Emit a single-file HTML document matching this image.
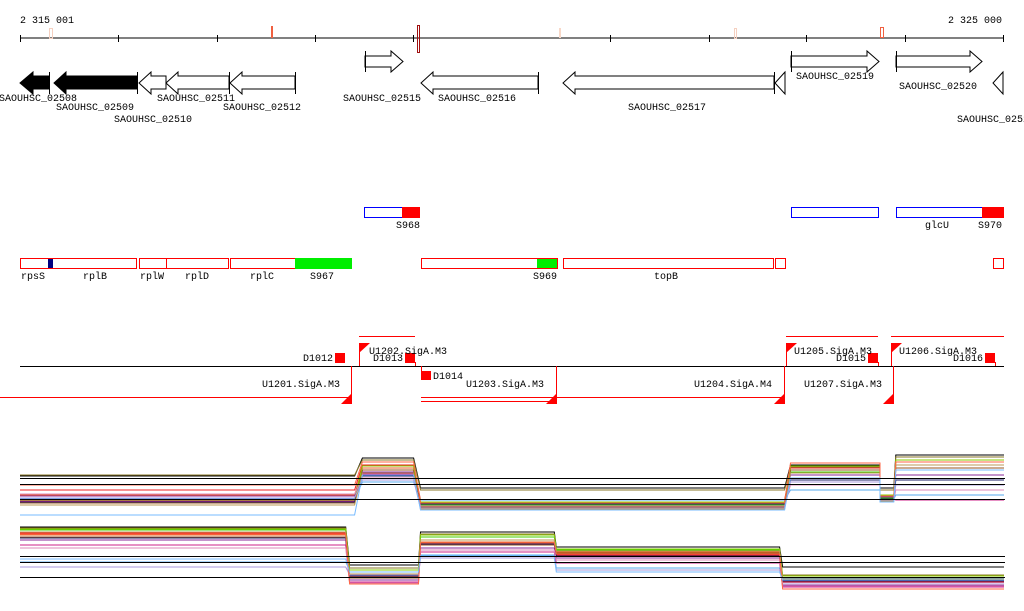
<!DOCTYPE html>
<html><head><meta charset="utf-8"><style>
html,body{margin:0;padding:0;background:#fff;}
svg{display:block;font-family:"Liberation Mono","DejaVu Sans Mono",monospace;}
text{font-size:10px;fill:#000;}
</style></head><body>
<svg id="root" width="1024" height="611" viewBox="0 0 1024 611" xmlns="http://www.w3.org/2000/svg">
<g>
<text x="20" y="23">2 315 001</text>
<text x="1002" y="23" text-anchor="end">2 325 000</text>
<line x1="20" y1="38" x2="1004" y2="38" stroke="#000"/>
<g stroke="#000">
<line x1="20.5" y1="35" x2="20.5" y2="42"/><line x1="118.5" y1="35" x2="118.5" y2="42"/><line x1="217.5" y1="35" x2="217.5" y2="42"/><line x1="315.5" y1="35" x2="315.5" y2="42"/><line x1="413.5" y1="35" x2="413.5" y2="42"/><line x1="610.5" y1="35" x2="610.5" y2="42"/><line x1="709.5" y1="35" x2="709.5" y2="42"/><line x1="806.5" y1="35" x2="806.5" y2="42"/><line x1="905.5" y1="35" x2="905.5" y2="42"/><line x1="1003.5" y1="35" x2="1003.5" y2="42"/>
</g>
<rect x="49.5" y="28.5" width="3" height="10" fill="none" stroke="#f5d0c0"/>
<rect x="271" y="26" width="2" height="12" fill="#f06040"/>
<rect x="417.5" y="25.5" width="2" height="27" fill="none" stroke="#a01010"/>
<rect x="559" y="28" width="2" height="10" fill="#f8d8c8"/>
<rect x="734.5" y="28.5" width="2" height="10" fill="none" stroke="#f5d0c0"/>
<rect x="880.5" y="27.5" width="3" height="10" fill="none" stroke="#f06040"/>
</g>
<g stroke="#000" stroke-width="1">
<polygon points="49,76 33,76 33,72 20,83 33,94 33,89 49,89" fill="#000"/>
<polygon points="137,76 66,76 66,72 54,83 66,94 66,89 137,89" fill="#000"/>
<line x1="137.5" y1="72" x2="137.5" y2="94"/><line x1="49.5" y1="72" x2="49.5" y2="94"/>
<polygon points="166,76 151,76 151,72 139,83 151,94 151,89 166,89" fill="#fff"/>
<polygon points="229,76 178,76 178,72 166,83 178,94 178,89 229,89" fill="#fff"/>
<line x1="229.5" y1="72" x2="229.5" y2="94"/>
<polygon points="295,76 242,76 242,72 230,83 242,94 242,89 295,89" fill="#fff"/>
<line x1="295.5" y1="72" x2="295.5" y2="94"/>
<polygon points="365,56 391,56 391,51 403,61.5 391,72 391,67 365,67" fill="#fff"/>
<line x1="365.5" y1="51" x2="365.5" y2="72"/>
<polygon points="538,76 433,76 433,72 421,83 433,94 433,89 538,89" fill="#fff"/>
<line x1="538.5" y1="72" x2="538.5" y2="94"/>
<polygon points="774,76 575,76 575,72 563,83 575,94 575,89 774,89" fill="#fff"/>
<line x1="774.5" y1="72" x2="774.5" y2="94"/>
<polygon points="785,72 775,83 785,94" fill="#fff"/>
<polygon points="791,56 867,56 867,51 879,61.5 867,72 867,67 791,67" fill="#fff"/>
<line x1="791.5" y1="51" x2="791.5" y2="72"/>
<polygon points="896,56 970,56 970,51 982,61.5 970,72 970,67 896,67" fill="#fff"/>
<line x1="896.5" y1="51" x2="896.5" y2="72"/>
<polygon points="1003,72 993,83 1003,94" fill="#fff"/>
</g>
<g>
<text x="38" y="101" text-anchor="middle">SAOUHSC_02508</text>
<text x="95" y="110" text-anchor="middle">SAOUHSC_02509</text>
<text x="153" y="122" text-anchor="middle">SAOUHSC_02510</text>
<text x="196" y="101" text-anchor="middle">SAOUHSC_02511</text>
<text x="262" y="110" text-anchor="middle">SAOUHSC_02512</text>
<text x="382" y="101" text-anchor="middle">SAOUHSC_02515</text>
<text x="477" y="101" text-anchor="middle">SAOUHSC_02516</text>
<text x="667" y="110" text-anchor="middle">SAOUHSC_02517</text>
<text x="835" y="79" text-anchor="middle">SAOUHSC_02519</text>
<text x="938" y="89" text-anchor="middle">SAOUHSC_02520</text>
<text x="957" y="122">SAOUHSC_0252</text>
</g>
<g>
<rect x="364.5" y="207.5" width="55" height="10" fill="#fff" stroke="#0000ff"/>
<rect x="402" y="207" width="18" height="11" fill="#ff0000"/>
<rect x="791.5" y="207.5" width="87" height="10" fill="#fff" stroke="#0000ff"/>
<rect x="896.5" y="207.5" width="107" height="10" fill="#fff" stroke="#0000ff"/>
<rect x="982" y="207" width="22" height="11" fill="#ff0000"/>
<text x="408" y="228" text-anchor="middle">S968</text>
<text x="937" y="228" text-anchor="middle">glcU</text>
<text x="990" y="228" text-anchor="middle">S970</text>
</g>
<g stroke="#ff0000" fill="#fff">
<rect x="20.5" y="258.5" width="116" height="10"/>
<rect x="48" y="259" width="5" height="9" fill="#000080" stroke="none"/>
<rect x="139.5" y="258.5" width="27" height="10"/>
<rect x="166.5" y="258.5" width="62" height="10"/>
<rect x="230.5" y="258.5" width="65" height="10"/>
<rect x="295" y="258" width="57" height="11" fill="#00ee00" stroke="none"/>
<rect x="421.5" y="258.5" width="136" height="10"/>
<rect x="537" y="259" width="20" height="9" fill="#00ee00" stroke="none"/>
<rect x="563.5" y="258.5" width="210" height="10"/>
<rect x="775.5" y="258.5" width="10" height="10"/>
<rect x="993.5" y="258.5" width="10" height="10"/>
</g>
<g>
<text x="33" y="279" text-anchor="middle">rpsS</text><text x="95" y="279" text-anchor="middle">rplB</text><text x="152" y="279" text-anchor="middle">rplW</text><text x="197" y="279" text-anchor="middle">rplD</text><text x="262" y="279" text-anchor="middle">rplC</text><text x="322" y="279" text-anchor="middle">S967</text><text x="545" y="279" text-anchor="middle">S969</text><text x="666" y="279" text-anchor="middle">topB</text>
</g>
<g>
<line x1="20" y1="366.5" x2="1004" y2="366.5" stroke="#000"/>
<g stroke="#ff0000" stroke-width="1">
<line x1="0" y1="397.5" x2="352" y2="397.5"/><line x1="359" y1="336.5" x2="415" y2="336.5"/>
<line x1="421" y1="397.5" x2="557" y2="397.5"/><line x1="421" y1="401.5" x2="557" y2="401.5"/>
<line x1="512" y1="397.5" x2="785" y2="397.5"/>
<line x1="786" y1="336.5" x2="878" y2="336.5"/><line x1="891" y1="336.5" x2="1004" y2="336.5"/>
<line x1="351.5" y1="366" x2="351.5" y2="404"/><line x1="359.5" y1="343" x2="359.5" y2="366"/>
<line x1="556.5" y1="366" x2="556.5" y2="404"/><line x1="784.5" y1="366" x2="784.5" y2="404"/>
<line x1="786.5" y1="343" x2="786.5" y2="366"/><line x1="891.5" y1="343" x2="891.5" y2="366"/>
<line x1="893.5" y1="366" x2="893.5" y2="404"/>
<line x1="415.5" y1="362" x2="415.5" y2="366"/><line x1="421.5" y1="366" x2="421.5" y2="372"/><line x1="878.5" y1="362" x2="878.5" y2="366"/><line x1="995.5" y1="362" x2="995.5" y2="366"/>
</g>
<g fill="#ff0000">
<polygon points="341,404 352,404 352,393"/>
<polygon points="359,343 370,343 359,353"/>
<polygon points="546,404 557,404 557,393"/>
<polygon points="774,404 785,404 785,393"/>
<polygon points="786,343 797,343 786,353"/>
<polygon points="891,343 902,343 891,353"/>
<polygon points="883,404 894,404 894,393"/>
<rect x="335" y="353" width="10" height="10"/>
<rect x="405" y="353" width="10" height="10"/>
<rect x="421" y="371" width="10" height="9"/>
<rect x="868" y="353" width="10" height="10"/>
<rect x="985" y="353" width="10" height="10"/>
</g>
<text x="333" y="361" text-anchor="end">D1012</text>
<text x="369" y="354">U1202.SigA.M3</text>
<text x="403" y="361" text-anchor="end">D1013</text>
<text x="433" y="379">D1014</text>
<text x="340" y="387" text-anchor="end">U1201.SigA.M3</text>
<text x="466" y="387">U1203.SigA.M3</text>
<text x="772" y="387" text-anchor="end">U1204.SigA.M4</text>
<text x="794" y="354">U1205.SigA.M3</text>
<text x="866" y="361" text-anchor="end">D1015</text>
<text x="899" y="354">U1206.SigA.M3</text>
<text x="983" y="361" text-anchor="end">D1016</text>
<text x="882" y="387" text-anchor="end">U1207.SigA.M3</text>
</g>
<g id="expr"></g>
</svg>
<script>
// Segment boundaries (genome position, 0..1000 = 10 kb window)
const seg1Start = [0, 348, 407, 783, 874, 890];
const seg1End   = [340, 400, 777, 874, 888, 1000];
const seg2Start = [0, 335, 407, 545, 775];
const seg2End   = [331, 405, 543, 772, 1000];
const seriesColors = ["#000000","#8b7a2a","#ee2222","#e8622a","#44cc00","#8a2a9a","#55aaee","#cc2288","#995522","#88cc00","#1a1a66","#dd88bb","#bb9955","#aa99dd","#ff6644","#77bbff"];
// Panel 1 signal levels per segment
const panel1Values = [
 [39,57,27,50,27,60],[40,55,25,48,25,58],[25,50,15,47,20,45],[20,47,12,45,18,53],
 [16,45,10,43,17,50],[19,43,11,40,18,40],[16,33,15,25,16,20],[14,41,9,37,16,15],
 [12,45,8,45,15,47],[15,49,13,49,20,55],[13,39,11,35,16,35],[21,37,9,30,15,25],
 [10,42,6,42,14,50],[17,35,7,33,15,30],[30,53,12,52,19,53],[0,40,5,37,13,45]];
// Panel 2 signal levels per segment
const panel2Values = [
 [68,30,63,48,28],[67,27,61,46,20],[62,20,55,40,13],[60,18,53,43,15],
 [65,23,58,45,17],[55,15,47,37,10],[33,25,40,27,17],[50,13,43,32,8],
 [58,17,50,42,12],[66,25,60,46,19],[57,19,51,39,14],[47,12,45,35,9],
 [63,21,55,44,16],[28,20,37,25,12],[61,11,52,41,6],[36,23,39,23,15]];
const refLines1 = [37,31,16];
const refLines2 = [39,33,18];
const xS = p => 20 + p*0.984;
const y1 = v => 515 - v;
const y2 = v => 595 - v;
const ns = "http://www.w3.org/2000/svg";
const g = document.getElementById('expr');
function drawPanel(starts, ends, values, ys, refs, name){
  const pg = document.createElementNS(ns,'g');
  
  
  values.forEach((vals,i)=>{
    let pts=[];
    vals.forEach((v,j)=>{pts.push(xS(starts[j]).toFixed(1)+','+ys(v)); pts.push(xS(ends[j]).toFixed(1)+','+ys(v));});
    const pl=document.createElementNS(ns,'polyline');
    pl.setAttribute('points',pts.join(' '));
    pl.setAttribute('fill','none');
    pl.setAttribute('stroke',seriesColors[i%seriesColors.length]);
    pl.setAttribute('stroke-width','1');
    
    
    pg.appendChild(pl);
  });
  refs.forEach(r=>{
    const l=document.createElementNS(ns,'line');
    l.setAttribute('x1',20);l.setAttribute('x2',1005);
    l.setAttribute('y1',ys(r)+0.5);l.setAttribute('y2',ys(r)+0.5);
    l.setAttribute('stroke','#000');
    
    
    pg.appendChild(l);
  });
  g.appendChild(pg);
}
drawPanel(seg1Start, seg1End, panel1Values, y1, refLines1, 'expression-panel-top');
drawPanel(seg2Start, seg2End, panel2Values, y2, refLines2, 'expression-panel-bottom');
</script>
</body></html>
